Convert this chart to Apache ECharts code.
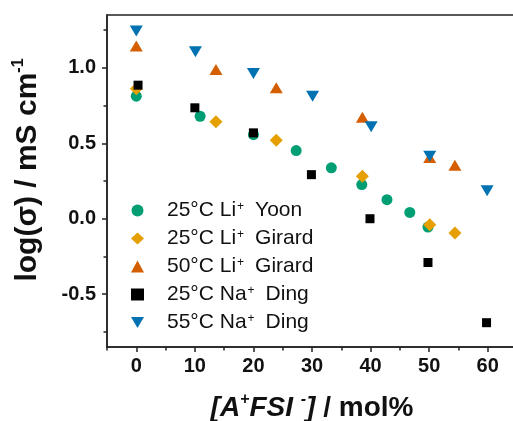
<!DOCTYPE html>
<html><head><meta charset="utf-8">
<script src="https://cdn.jsdelivr.net/npm/echarts@6/dist/echarts.min.js"></script>
<style>html,body{margin:0;padding:0;background:#fff}#c{width:513px;height:421px}</style>
</head><body><div id="c"></div>
<script>
const xTickLabels = [0, 10, 20, 30, 40, 50, 60];
const xMinorTicks = [-5, 5, 15, 25, 35, 45, 55, 65];
const yTickLabels = [-0.5, 0, 0.5, 1.0];
const yMinorTicks = [-0.75, -0.25, 0.25, 0.75, 1.25];

const temps = ['25°C', '25°C', '50°C', '25°C', '55°C'];
const ions = ['Li', 'Li', 'Li', 'Na', 'Na'];
const sources = ['Yoon', 'Girard', 'Girard', 'Ding', 'Ding'];

const yoonX = [0, 10.9, 20, 27.3, 33.3, 38.5, 42.8, 46.7, 49.8];
const yoonY = [0.812, 0.679, 0.558, 0.452, 0.337, 0.226, 0.126, 0.042, -0.055];
const girard25X = [0, 13.6, 23.9, 38.6, 50.1, 54.4];
const girard25Y = [0.861, 0.642, 0.520, 0.281, -0.04, -0.095];
const girard50X = [0, 13.6, 23.9, 38.6, 50.1, 54.4];
const girard50Y = [1.144, 0.989, 0.868, 0.673, 0.405, 0.354];
const ding25X = [0.3, 10, 20, 29.9, 39.9, 49.8, 59.8];
const ding25Y = [0.885, 0.735, 0.569, 0.292, 0.0, -0.29, -0.689];
const ding55X = [0, 10.1, 20, 30.1, 40.1, 50.1, 59.9];
const ding55Y = [1.244, 1.107, 0.963, 0.812, 0.609, 0.414, 0.186];

const FONT = '"Liberation Sans", Arial, sans-serif';
const xs = [yoonX, girard25X, girard50X, ding25X, ding55X];
const ys = [yoonY, girard25Y, girard50Y, ding25Y, ding55Y];
const colors = ['#009E73', '#E69F00', '#D55E00', '#000000', '#0072B2'];
const symbols = ['circle', 'diamond', 'triangle', 'rect', 'triangle'];
const legendIcons = ['circle', 'diamond', 'triangle', 'rect', 'path://M0,0 L12,0 L6,10 Z'];
const sizes = [11, [13, 13], [13, 11], 9, [13, 11]];
const rotates = [0, 0, 0, 0, 180];
const names = temps.map((t, i) => t + ' ' + ions[i] + '+ ' + sources[i]);

const series = names.map((n, i) => ({
  name: n,
  type: 'scatter',
  symbol: symbols[i],
  symbolSize: sizes[i],
  symbolRotate: rotates[i],
  symbolKeepAspect: true,
  itemStyle: { color: colors[i], opacity: 1 },
  data: xs[i].map((x, j) => [x, ys[i][j]]),
  z: 2 + i
}));

const chart = echarts.init(document.getElementById('c'), null, { renderer: 'canvas' });
const axisCol = '#222';
const TXT = '#111';
chart.setOption({
  animation: false,
  backgroundColor: '#fff',
  grid: { left: 107, width: 410, top: 15, bottom: 74, show: true, borderColor: axisCol, borderWidth: 1.5, containLabel: false, outerBoundsMode: 'none' },
  legend: {
    orient: 'vertical', left: 131, top: 200, padding: 0,
    itemWidth: 13, itemHeight: 12, itemGap: 7,
    symbolKeepAspect: true,
    data: names.map((n, i) => ({ name: n, icon: legendIcons[i], itemStyle: { color: colors[i] } })),
    formatter: function (name) {
      const i = names.indexOf(name);
      return '{a|' + temps[i] + ' ' + ions[i] + '}{s|+}{b|' + sources[i] + '}';
    },
    textStyle: {
      fontFamily: FONT, fontSize: 21, color: TXT, lineHeight: 20,
      rich: {
        a: { fontFamily: FONT, fontSize: 21, color: TXT, lineHeight: 20, padding: [0, 0, 0, 18] },
        s: { fontFamily: FONT, fontSize: 12, color: TXT, lineHeight: 20, verticalAlign: 'top', padding: [0, 0, 8, 1] },
        b: { fontFamily: FONT, fontSize: 21, color: TXT, lineHeight: 20, padding: [0, 0, 0, 11] }
      }
    }
  },
  xAxis: [{
    type: 'value', min: -5, max: 65, position: 'bottom',
    axisLine: { show: true, onZero: false, lineStyle: { color: axisCol, width: 1.5 } },
    axisTick: { show: true, inside: false, length: 5, customValues: xTickLabels, lineStyle: { color: axisCol, width: 1.5 } },
    axisLabel: { customValues: xTickLabels, fontFamily: FONT, fontSize: 20, fontWeight: 'bold', color: TXT, margin: 9 },
    splitLine: { show: false },
    name: '{i|[A}{is|+}{i|FSI }{is|-}{i|]}{n| / mol%}',
    nameLocation: 'middle', nameGap: 45,
    nameTextStyle: {
      rich: {
        i: { fontFamily: FONT, fontSize: 28, fontWeight: 'bold', fontStyle: 'italic', color: TXT, lineHeight: 32 },
        is: { fontFamily: FONT, fontSize: 16, fontWeight: 'bold', fontStyle: 'italic', color: TXT, verticalAlign: 'top', lineHeight: 32, padding: [0, 0, 12, 0] },
        n: { fontFamily: FONT, fontSize: 28, fontWeight: 'bold', color: TXT, lineHeight: 32 }
      }
    }
  }, {
    type: 'value', min: -5, max: 65, position: 'bottom',
    axisLine: { show: false, onZero: false },
    axisTick: { show: true, inside: false, length: 3.5, customValues: xMinorTicks, lineStyle: { color: axisCol, width: 1.5 } },
    axisLabel: { show: false },
    splitLine: { show: false }
  }],
  yAxis: [{
    type: 'value', min: -0.85, max: 1.35, position: 'left',
    axisLine: { show: true, onZero: false, lineStyle: { color: axisCol, width: 1.5 } },
    axisTick: { show: true, inside: false, length: 5, customValues: yTickLabels, lineStyle: { color: axisCol, width: 1.5 } },
    axisLabel: { customValues: yTickLabels, fontFamily: FONT, fontSize: 20, fontWeight: 'bold', color: TXT, margin: 11, formatter: v => v.toFixed(1) },
    splitLine: { show: false },
    name: '{n|log(σ) / mS cm}{s|-1}',
    nameLocation: 'middle', nameRotate: 90, nameGap: 62,
    nameTextStyle: {
      padding: [0, 0, 0, 22],
      rich: {
        n: { fontFamily: FONT, fontSize: 30, fontWeight: 'bold', color: TXT, lineHeight: 34 },
        s: { fontFamily: FONT, fontSize: 16, fontWeight: 'bold', color: TXT, verticalAlign: 'top', lineHeight: 34, padding: [0, 0, 12, 0] }
      }
    }
  }, {
    type: 'value', min: -0.85, max: 1.35, position: 'left',
    axisLine: { show: false, onZero: false },
    axisTick: { show: true, inside: false, length: 3.5, customValues: yMinorTicks, lineStyle: { color: axisCol, width: 1.5 } },
    axisLabel: { show: false },
    splitLine: { show: false }
  }],
  series: series
});
</script></body></html>
